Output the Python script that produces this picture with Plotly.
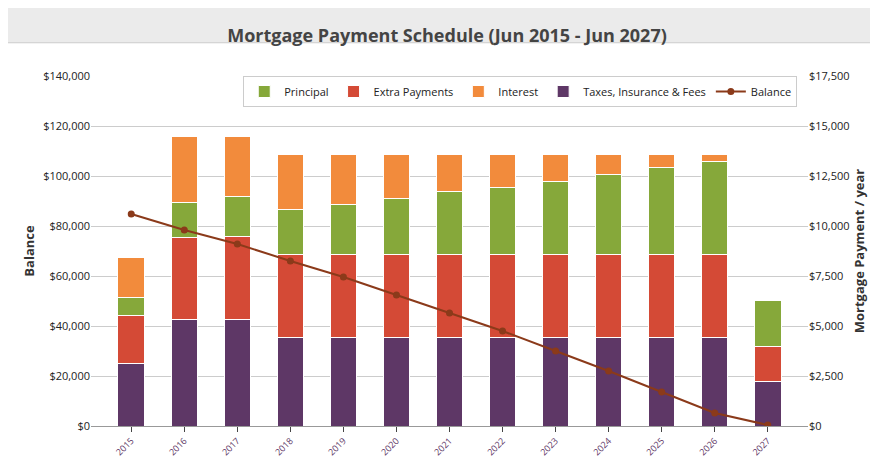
import plotly.graph_objects as go

years = [str(y) for y in range(2015, 2028)]
taxes = [3150, 5350, 5350, 4450, 4450, 4450, 4450, 4450, 4450, 4450, 4450, 4450, 2250]
extra = [2400, 4100, 4150, 4150, 4150, 4150, 4150, 4150, 4150, 4150, 4150, 4150, 1750]
principal = [900, 1750, 2000, 2250, 2500, 2800, 3150, 3350, 3650, 4000, 4350, 4650, 2300]
interest = [2000, 3300, 3000, 2750, 2500, 2200, 1850, 1650, 1350, 1000, 650, 350, 0]
balance = [84800, 78400, 72800, 66000, 59600, 52400, 45200, 38000, 30000, 22000, 13600, 5200, 400]

fig = go.Figure()
for name, vals, col in [("Taxes, Insurance & Fees", taxes, "#5e3766"),
                        ("Extra Payments", extra, "#d44a36"),
                        ("Principal", principal, "#86a83a"),
                        ("Interest", interest, "#f28b3c")]:
    fig.add_trace(go.Bar(x=years, y=vals, name=name, marker=dict(color=col, line=dict(color="white", width=1)),
                         yaxis="y", width=0.5))
fig.add_trace(go.Scatter(x=years, y=balance, name="Balance", mode="lines+markers", yaxis="y2",
                         line=dict(color="#8b3a1a", width=2), marker=dict(size=7, color="#8b3a1a")))

fig.update_layout(
    barmode="stack", width=878, height=471, paper_bgcolor="white", plot_bgcolor="white",
    margin=dict(l=83, r=78, t=68, b=53),
    font=dict(family="Open Sans", size=11, color="#333"),
    title=dict(text="<b>Mortgage Payment Schedule (Jun 2015 - Jun 2027)</b>", x=0.5, y=0.955,
               font=dict(size=18, color="#444")),
    shapes=[dict(type="rect", xref="paper", yref="paper", x0=-0.12, x1=1.12, y0=1.095, y1=1.25,
                 fillcolor="#ebebeb", line=dict(color="#cccccc", width=1), layer="below")],
    xaxis=dict(tickangle=-45, tickfont=dict(size=9, color="#5e3766"), showline=True, linecolor="#999", ticks="outside"),
    yaxis=dict(range=[0, 17500], dtick=2500, tickprefix="$", tickformat=",", side="right",
               showgrid=True, gridcolor="#ccc", title=dict(text="<b>Mortgage Payment / year</b>", standoff=5),
               tickfont=dict(size=11, color="#222"), zeroline=False),
    yaxis2=dict(range=[0, 140000], dtick=20000, tickprefix="$", tickformat=",", overlaying="y", side="left",
                showgrid=False, title=dict(text="<b>Balance</b>", standoff=5),
                tickfont=dict(size=11, color="#222"), zeroline=False),
    legend=dict(orientation="h", x=0.985, xanchor="right", y=1.0, yanchor="top", bgcolor="white",
                bordercolor="#ccc", borderwidth=1, font=dict(size=11, color="#222"),
                traceorder="normal", itemwidth=30, entrywidth=0),
    bargap=0.35,
)
order = {"Principal": 1, "Extra Payments": 2, "Interest": 3, "Taxes, Insurance & Fees": 4, "Balance": 5}
for t in fig.data:
    t.legendrank = order[t.name]
fig.write_html("out.html")
